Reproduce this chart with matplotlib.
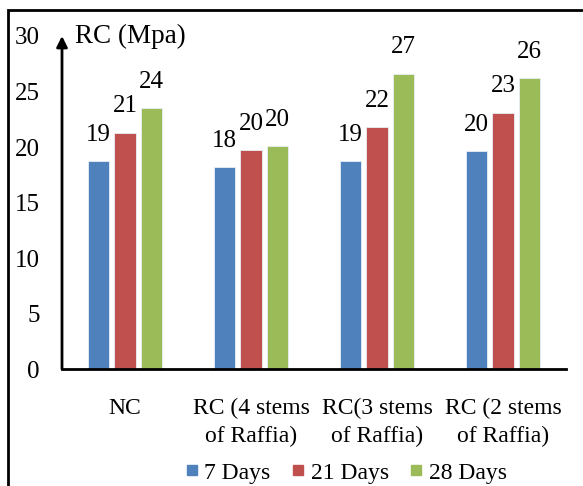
import numpy as np
import matplotlib.pyplot as plt
from matplotlib.lines import Line2D
from matplotlib.patches import Rectangle

plt.rcParams['font.family'] = ['Liberation Serif', 'DejaVu Serif']

categories = ['NC', 'RC (4 stems\nof Raffia)', 'RC(3 stems\nof Raffia)', 'RC (2 stems\nof Raffia)']
series_names = ['7 Days', '21 Days', '28 Days']
days_7 = [18.7, 18.2, 18.7, 19.6]
days_21 = [21.3, 19.7, 21.8, 23.1]
days_28 = [23.5, 20.1, 26.6, 26.2]
colors = ['#4F81BD', '#C0504D', '#9BBB59']
yticks = [0, 5, 10, 15, 20, 25, 30]

fig = plt.figure(figsize=(5.83, 4.86), dpi=100)
ax = fig.add_axes([62 / 583, 1 - 369 / 486, 504 / 583, 333 / 486])

x = np.arange(len(categories))
width = 0.17
step = 0.21
for i, (vals, name, col) in enumerate(zip([days_7, days_21, days_28], series_names, colors)):
    bars = ax.bar(x + (i - 1) * step, vals, width, color=col, label=name,
                  edgecolor='#e8eef5', linewidth=0.6)
    ax.bar_label(bars, fmt='%.0f', padding=11, fontsize=18)

ax.set_xlim(-0.5, 3.5)
ax.set_ylim(0, 30)
ax.set_yticks(yticks)
ax.set_xticks(x)
ax.set_xticklabels(categories, fontsize=17, linespacing=1.4)
ax.tick_params(axis='y', length=0, pad=16, labelsize=18)
ax.tick_params(axis='x', length=0, pad=21)

for s in ['top', 'right', 'left']:
    ax.spines[s].set_visible(False)
ax.spines['bottom'].set_linewidth(2)

# y axis drawn as an arrow
ax.annotate('', xy=(0, 1.0), xytext=(0, 0), xycoords='axes fraction',
            arrowprops=dict(arrowstyle='-|>', color='black', lw=2,
                            mutation_scale=16, shrinkA=0, shrinkB=0))
ax.text(0.025, 1.0, 'RC (Mpa)', transform=ax.transAxes, fontsize=19.5,
        ha='left', va='center')

handles = [Line2D([], [], marker='s', linestyle='none', color=c, markersize=7.2)
           for c in colors]
fig.legend(handles, series_names, loc='center', bbox_to_anchor=(346 / 583, 1 - 473 / 486),
           ncol=3, frameon=False, fontsize=17, handlelength=0.55, handletextpad=0.25,
           columnspacing=0.9, borderpad=0)

# frame around the whole chart
fig.patches.append(Rectangle((8 / 583, -0.1), 1.2, 1 - 10 / 486 + 0.1,
                             transform=fig.transFigure, fill=False,
                             edgecolor='black', linewidth=2))

fig.savefig('out.png', dpi=100)
